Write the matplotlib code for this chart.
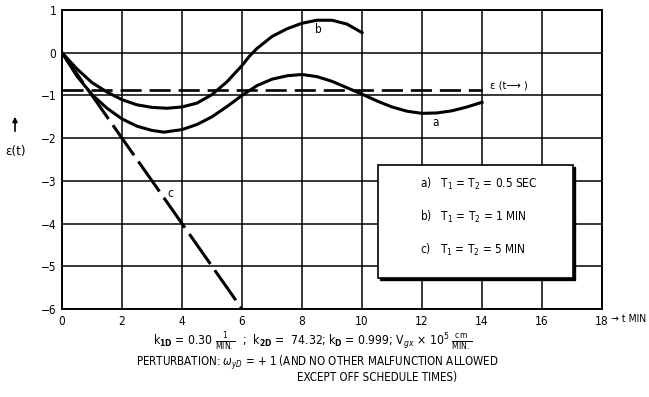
import matplotlib
matplotlib.use("Agg")
import matplotlib.pyplot as plt
from matplotlib.patches import Rectangle

plt.rcParams['font.family'] = ['DejaVu Sans']
plt.rcParams['font.stretch'] = 'condensed'
plt.rcParams['mathtext.fontset'] = 'dejavusans'

# ---- data ----
a_t = [0, 0.5, 1, 1.5, 2, 2.5, 3, 3.4, 4, 4.5, 5, 5.5, 6, 6.5, 7, 7.5, 8, 8.5, 9,
       9.5, 10, 10.5, 11, 11.5, 12, 12.5, 13, 13.5, 14]
a_eps = [0, -0.55, -0.98, -1.3, -1.55, -1.72, -1.82, -1.86, -1.8, -1.68, -1.5, -1.26,
         -1.0, -0.77, -0.62, -0.54, -0.51, -0.56, -0.67, -0.82, -0.97, -1.13, -1.27,
         -1.37, -1.42, -1.41, -1.36, -1.27, -1.16]
b_t = [0, 0.5, 1, 1.5, 2, 2.5, 3, 3.5, 4, 4.5, 5, 5.5, 6, 6.25, 6.5, 7, 7.5, 8, 8.5, 9, 9.5, 10]
b_eps = [0, -0.38, -0.7, -0.92, -1.1, -1.22, -1.28, -1.3, -1.27, -1.18, -0.98, -0.68,
         -0.3, -0.08, 0.1, 0.38, 0.56, 0.69, 0.76, 0.76, 0.67, 0.47]
c_t = [0, 6]
c_eps = [0, -6]
steady_t = [0, 14]
steady_eps = [-0.88, -0.88]

xticks = [0, 2, 4, 6, 8, 10, 12, 14, 16, 18]
yticks = [1, 0, -1, -2, -3, -4, -5, -6]
ytick_labels = ['1', '0', '\u22121', '\u22122', '\u22123', '\u22124', '\u22125', '\u22126']
legend_lines = ['a)   T$_1$ = T$_2$ = 0.5 SEC', 'b)   T$_1$ = T$_2$ = 1 MIN', 'c)   T$_1$ = T$_2$ = 5 MIN']

W, H = 649, 397
fig = plt.figure(figsize=(W / 100, H / 100), dpi=100)

def fx(px):
    return px / W

def fy(py):
    return 1 - py / H

ax = fig.add_axes([fx(62), fy(309), fx(602) - fx(62), fy(10) - fy(309)])
ax.set_xlim(0, 18)
ax.set_ylim(-6, 1)
ax.set_xticks(xticks)
ax.set_xticklabels([str(v) for v in xticks], fontsize=8.5)
ax.set_yticks(yticks)
ax.set_yticklabels(ytick_labels, fontsize=8.5)
ax.tick_params(length=0, pad=4)
ax.grid(True, color='black', linewidth=1.1)
for s in ax.spines.values():
    s.set_linewidth(1.4)
    s.set_color('black')

ax.plot(b_t, b_eps, color='black', lw=2.2, solid_joinstyle='round', zorder=3)
ax.plot(a_t, a_eps, color='black', lw=2.2, solid_joinstyle='round', zorder=3)
ax.plot(c_t, c_eps, color='black', lw=2.2, dashes=(12, 2.5), zorder=3)
ax.plot(steady_t, steady_eps, color='black', lw=1.9, dashes=(8, 3), zorder=3)

ax.text(8.55, 0.55, 'b', fontsize=8.5, ha='center', va='center', zorder=4)
ax.text(12.45, -1.63, 'a', fontsize=8.5, ha='center', va='center', zorder=4)
ax.text(3.6, -3.3, 'c', fontsize=8.5, ha='center', va='center', zorder=4)
ax.text(14.25, -0.76, '\u03b5 (t\u27f6 )', fontsize=8, ha='left', va='center', zorder=4)

# legend box with shadow
fig.patches.append(Rectangle((fx(380), fy(280)), fx(575) - fx(380), fy(167) - fy(280),
                             transform=fig.transFigure, facecolor='black', edgecolor='black',
                             zorder=5))
fig.patches.append(Rectangle((fx(378), fy(278)), fx(573) - fx(378), fy(165) - fy(278),
                             transform=fig.transFigure, facecolor='white', edgecolor='black',
                             linewidth=1.2, zorder=6))
for i, line in enumerate(legend_lines):
    fig.text(fx(420), fy(184 + 33 * i), line, fontsize=8.5, ha='left', va='center', zorder=7)

# axis labels
fig.text(fx(611), fy(319), '\u2192 t MIN', fontsize=7.5, ha='left', va='center')
fig.text(fx(16), fy(152), '\u03b5(t)', fontsize=9.5, ha='center', va='center')
fig.add_artist(matplotlib.patches.FancyArrowPatch((fx(15), fy(134)), (fx(15), fy(114)),
                                                  transform=fig.transFigure, arrowstyle='-|>',
                                                  mutation_scale=7, lw=1.2, color='black'))

# bottom notes
fig.text(fx(313), fy(341),
         r'k$_{\mathbf{1D}}$ = 0.30 $\frac{1}{\mathrm{MIN.}}$  ;  k$_{\mathbf{2D}}$ =  74.32; '
         r'k$_{\mathbf{D}}$ = 0.999; V$_{gx}$ $\times$ 10$^5$ $\frac{\mathrm{cm}}{\mathrm{MIN.}}$',
         fontsize=8.7, ha='center', va='center')
fig.text(fx(317), fy(363), r'PERTURBATION: $\omega_{yD}$ = + 1 (AND NO OTHER MALFUNCTION ALLOWED',
         fontsize=8.3, ha='center', va='center')
fig.text(fx(377), fy(378), 'EXCEPT OFF SCHEDULE TIMES)', fontsize=8.3, ha='center', va='center')

fig.savefig('out.png', dpi=100)
